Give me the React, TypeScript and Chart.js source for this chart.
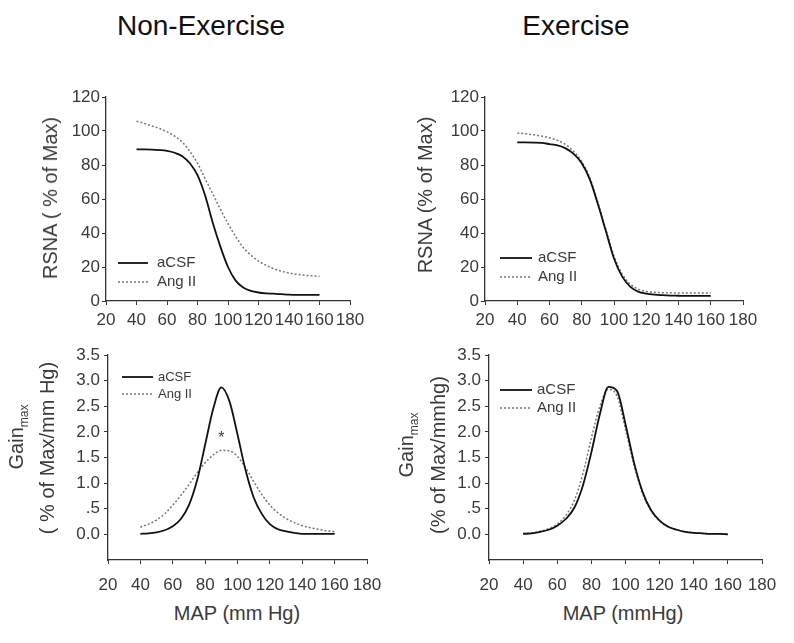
import React, { useEffect, useRef } from "react";
import { Chart, registerables } from "chart.js";

Chart.register(...registerables);

// ---- Data ----
const mapValues = [40, 45, 50, 55, 60, 65, 70, 75, 80, 85, 90, 95, 100, 105, 110, 115, 120, 125, 130, 135, 140, 145, 150, 155, 160];

const rsnaNonExAcsf = [89.2, 89.2, 89.1, 88.8, 88.3, 87.2, 85.2, 81, 74, 62, 46, 32, 20, 12, 8, 6, 5, 4.5, 4.3, 4, 3.7, 3.6, 3.6, 3.6, 3.6];
const rsnaNonExAngII = [105.7, 104.5, 103, 101.5, 99.5, 97, 93.5, 88, 81, 72, 63, 54, 45.5, 38, 31.5, 27, 23.5, 21, 19, 17.5, 16.5, 15.7, 15.2, 14.8, 14.5];

const rsnaExAcsf = [93.3, 93.3, 93.2, 93, 92.3, 91.5, 89.8, 86.5, 81, 71.5, 57, 41, 25, 14.5, 8.5, 5.5, 4.3, 3.7, 3.4, 3.2, 3.1, 3, 3, 3, 3];
const rsnaExAngII = [98.8, 98.4, 97.8, 97, 96, 94.5, 92, 88, 82, 72.5, 58, 42, 26.5, 16, 10, 7, 5.6, 5.1, 4.9, 4.8, 4.7, 4.7, 4.7, 4.7, 4.7];

const gainNonExAcsf = [0.01, 0.02, 0.04, 0.08, 0.16, 0.3, 0.57, 1.05, 1.75, 2.45, 2.87, 2.6, 1.95, 1.25, 0.72, 0.4, 0.2, 0.1, 0.06, 0.03, 0.01, 0.01, 0.01, 0.01, 0.01];
const gainNonExAngII = [0.14, 0.2, 0.28, 0.4, 0.57, 0.76, 0.97, 1.2, 1.4, 1.55, 1.64, 1.63, 1.52, 1.3, 1.03, 0.78, 0.57, 0.42, 0.31, 0.23, 0.17, 0.13, 0.1, 0.07, 0.05];

const gainExAcsf = [0.01, 0.02, 0.05, 0.09, 0.17, 0.3, 0.52, 0.95, 1.6, 2.35, 2.88, 2.8, 2.15, 1.4, 0.83, 0.47, 0.27, 0.15, 0.09, 0.05, 0.03, 0.02, 0.01, 0.01, 0.0];
const gainExAngII = [0.02, 0.03, 0.06, 0.11, 0.2, 0.37, 0.66, 1.18, 1.88, 2.5, 2.83, 2.7, 2.05, 1.35, 0.8, 0.46, 0.26, 0.15, 0.09, 0.05, 0.03, 0.02, 0.01, 0.01, 0.01];

const seriesLabels = ["aCSF", "Ang II"];
const asteriskPoint = { x: 90, y: 1.93, text: "*" };

const xRange = { min: 20, max: 180, step: 20 };
const rsnaRange = { min: 0, max: 120, step: 20 };
const gainRange = { min: -0.5, max: 3.5, step: 0.5 };

const FONT = "'Liberation Sans', Arial, sans-serif";
const TEXT = "#3a3a3a";

type LegendCfg = { x1: number; x2: number; y1: number; y2: number; tx: number; size: number };

type PanelProps = {
  left: number;
  top: number;
  width: number;
  height: number;
  pad: { top: number; right: number; bottom: number };
  yAxisWidth: number;
  xAxisHeight: number;
  xPad: number;
  yPad: number;
  yRange: { min: number; max: number; step: number };
  gain: boolean;
  acsf: number[];
  angII: number[];
  legend: LegendCfg;
  asterisk?: { x: number; y: number; text: string };
};

function Panel(p: PanelProps) {
  const ref = useRef<HTMLCanvasElement | null>(null);
  useEffect(() => {
    if (!ref.current) return;
    const legendPlugin = {
      id: "customLegend",
      afterDatasetsDraw(chart: any) {
        const ctx = chart.ctx;
        const L = p.legend;
        ctx.save();
        ctx.lineWidth = 1.8;
        ctx.strokeStyle = "#111";
        ctx.setLineDash([]);
        ctx.beginPath();
        ctx.moveTo(L.x1, L.y1);
        ctx.lineTo(L.x2, L.y1);
        ctx.stroke();
        ctx.lineWidth = 1.5;
        ctx.strokeStyle = "#777";
        ctx.setLineDash([2, 2]);
        ctx.beginPath();
        ctx.moveTo(L.x1, L.y2);
        ctx.lineTo(L.x2, L.y2);
        ctx.stroke();
        ctx.setLineDash([]);
        ctx.fillStyle = TEXT;
        ctx.font = `${L.size}px ${FONT}`;
        ctx.textBaseline = "middle";
        ctx.textAlign = "left";
        ctx.fillText(seriesLabels[0], L.tx, L.y1);
        ctx.fillText(seriesLabels[1], L.tx, L.y2);
        if (p.asterisk) {
          const xs = chart.scales.x;
          const ys = chart.scales.y;
          ctx.font = `16px ${FONT}`;
          ctx.textAlign = "center";
          ctx.fillText(p.asterisk.text, xs.getPixelForValue(p.asterisk.x), ys.getPixelForValue(p.asterisk.y) + 3);
        }
        ctx.restore();
      },
    };
    const toPts = (ys: number[]) => mapValues.map((x, i) => ({ x, y: ys[i] }));
    const tickColor = (c: any) => (c.tick && c.tick.value < 0 ? "rgba(0,0,0,0)" : "#333");
    const chart = new Chart(ref.current, {
      type: "line",
      data: {
        datasets: [
          {
            label: seriesLabels[0],
            data: toPts(p.acsf),
            borderColor: "#111",
            borderWidth: 1.8,
            pointRadius: 0,
            tension: 0.4,
            cubicInterpolationMode: "monotone",
            fill: false,
          },
          {
            label: seriesLabels[1],
            data: toPts(p.angII),
            borderColor: "#777",
            borderWidth: 1.5,
            borderDash: [2, 2],
            pointRadius: 0,
            tension: 0.4,
            cubicInterpolationMode: "monotone",
            fill: false,
          },
        ],
      },
      options: {
        responsive: false,
        animation: false,
        devicePixelRatio: 1,
        layout: { padding: { left: 0, top: p.pad.top, right: p.pad.right, bottom: p.pad.bottom } },
        plugins: { legend: { display: false }, tooltip: { enabled: false } },
        scales: {
          x: {
            type: "linear",
            min: xRange.min,
            max: xRange.max,
            afterFit: (s: any) => {
              s.height = p.xAxisHeight;
            },
            ticks: {
              stepSize: xRange.step,
              autoSkip: false,
              maxRotation: 0,
              minRotation: 0,
              color: TEXT,
              padding: p.xPad,
              font: { family: FONT, size: 17 },
            },
            grid: { display: true, drawOnChartArea: false, drawTicks: true, tickLength: 4, color: "#333" },
            border: { display: true, color: "#333", width: 1.3 },
          },
          y: {
            type: "linear",
            min: p.yRange.min,
            max: p.yRange.max,
            afterFit: (s: any) => {
              s.width = p.yAxisWidth;
            },
            ticks: {
              stepSize: p.yRange.step,
              autoSkip: false,
              color: TEXT,
              padding: p.yPad,
              font: { family: FONT, size: 17 },
              callback: (v: any) => {
                const n = Number(v);
                if (!p.gain) return String(n);
                if (n < 0) return "";
                if (Math.abs(n - 0.5) < 1e-9) return ".5";
                return n.toFixed(1);
              },
            },
            grid: { display: true, drawOnChartArea: false, drawTicks: true, tickLength: 4, color: tickColor },
            border: { display: true, color: "#333", width: 1.3 },
          },
        },
      },
      plugins: [legendPlugin],
    } as any);
    return () => chart.destroy();
  }, []);
  return (
    <canvas
      ref={ref}
      width={p.width}
      height={p.height}
      style={{ position: "absolute", left: p.left, top: p.top, width: p.width, height: p.height }}
    />
  );
}

function Label(props: { cx: number; cy: number; size: number; rotate?: boolean; color?: string; children: React.ReactNode }) {
  return (
    <div
      style={{
        position: "absolute",
        left: props.cx,
        top: props.cy,
        transform: `translate(-50%, -50%)${props.rotate ? " rotate(-90deg)" : ""}`,
        whiteSpace: "nowrap",
        fontFamily: FONT,
        fontSize: props.size,
        color: props.color || TEXT,
        lineHeight: 1,
      }}
    >
      {props.children}
    </div>
  );
}

export default function App() {
  return (
    <div style={{ position: "absolute", left: 0, top: 0, width: 794, height: 643, background: "#fff", overflow: "hidden" }}>
      <Label cx={201} cy={26} size={28} color="#111">
        Non-Exercise
      </Label>
      <Label cx={576} cy={26} size={28} color="#111">
        Exercise
      </Label>

      <Panel
        left={0}
        top={80}
        width={395}
        height={265}
        pad={{ top: 17, right: 45, bottom: 14 }}
        yAxisWidth={106}
        xAxisHeight={30}
        xPad={5}
        yPad={2}
        yRange={rsnaRange}
        gain={false}
        acsf={rsnaNonExAcsf}
        angII={rsnaNonExAngII}
        legend={{ x1: 118, x2: 148, y1: 183, y2: 202, tx: 157, size: 15 }}
      />
      <Panel
        left={400}
        top={80}
        width={394}
        height={265}
        pad={{ top: 17, right: 51, bottom: 14 }}
        yAxisWidth={85}
        xAxisHeight={30}
        xPad={5}
        yPad={2}
        yRange={rsnaRange}
        gain={false}
        acsf={rsnaExAcsf}
        angII={rsnaExAngII}
        legend={{ x1: 100, x2: 132, y1: 178, y2: 197, tx: 138, size: 15 }}
      />
      <Panel
        left={0}
        top={340}
        width={400}
        height={260}
        pad={{ top: 15, right: 33, bottom: 4 }}
        yAxisWidth={108}
        xAxisHeight={36}
        xPad={11}
        yPad={4}
        yRange={gainRange}
        gain={true}
        acsf={gainNonExAcsf}
        angII={gainNonExAngII}
        legend={{ x1: 122, x2: 153, y1: 37, y2: 54, tx: 158, size: 13 }}
        asterisk={asteriskPoint}
      />
      <Panel
        left={400}
        top={340}
        width={394}
        height={260}
        pad={{ top: 15, right: 32, bottom: 4 }}
        yAxisWidth={89}
        xAxisHeight={36}
        xPad={11}
        yPad={4}
        yRange={gainRange}
        gain={true}
        acsf={gainExAcsf}
        angII={gainExAngII}
        legend={{ x1: 100, x2: 132, y1: 50, y2: 68, tx: 137, size: 15 }}
      />

      <Label cx={50} cy={198} size={20} rotate>
        RSNA ( % of Max)
      </Label>
      <Label cx={425} cy={195} size={20} rotate>
        RSNA (% of Max)
      </Label>
      <Label cx={18} cy={437} size={20} rotate>
        Gain<sub style={{ fontSize: 12 }}>max</sub>
      </Label>
      <Label cx={47} cy={448} size={20} rotate>
        ( % of Max/mm Hg)
      </Label>
      <Label cx={408} cy={445} size={20} rotate>
        Gain<sub style={{ fontSize: 12 }}>max</sub>
      </Label>
      <Label cx={438} cy={455} size={20} rotate>
        (% of Max/mmhg)
      </Label>
      <Label cx={237} cy={613} size={20}>
        MAP (mm Hg)
      </Label>
      <Label cx={623} cy={613} size={20}>
        MAP (mmHg)
      </Label>
    </div>
  );
}
